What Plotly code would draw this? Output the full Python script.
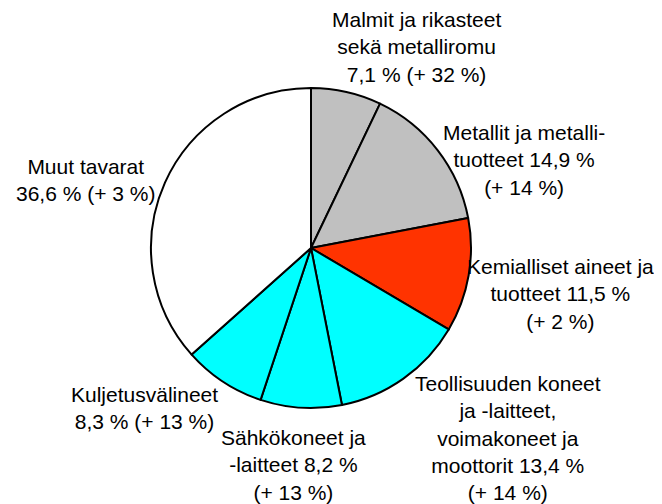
import plotly.graph_objects as go

# The page body has an 8px default margin, so the figure is drawn 8px in.
OFF = 8
W, H = 662 - OFF, 504 - OFF

categories = [
    "Malmit ja rikasteet sekä metalliromu",
    "Metallit ja metallituotteet",
    "Kemialliset aineet ja tuotteet",
    "Teollisuuden koneet ja -laitteet, voimakoneet ja moottorit",
    "Sähkökoneet ja -laitteet",
    "Kuljetusvälineet",
    "Muut tavarat",
]
shares = [7.1, 14.9, 11.5, 13.4, 8.2, 8.3, 36.6]
changes = [32, 14, 2, 14, 13, 13, 3]
label_texts = [
    "Malmit ja rikasteet<br>sekä metalliromu<br>7,1 % (+ 32 %)",
    "Metallit ja metalli-<br>tuotteet 14,9 %<br>(+ 14 %)",
    "Kemialliset aineet ja<br>tuotteet 11,5 %<br>(+ 2 %)",
    "Teollisuuden koneet<br>ja -laitteet,<br>voimakoneet ja<br>moottorit 13,4 %<br>(+ 14 %)",
    "Sähkökoneet ja<br>-laitteet 8,2 %<br>(+ 13 %)",
    "Kuljetusvälineet<br>8,3 % (+ 13 %)",
    "Muut tavarat<br>36,6 % (+ 3 %)",
]
colors = ["#C0C0C0", "#C0C0C0", "#FF3300", "#00FFFF", "#00FFFF", "#00FFFF", "#FFFFFF"]

# label centres in window pixels
label_pos = [(416, 47), (524, 160), (560, 294), (508, 438), (293, 465), (144, 408), (85, 180)]


def px_x(x):
    return (x - OFF) / W


def px_y(y):
    return 1 - (y - OFF) / H


fig = go.Figure(go.Pie(
    labels=categories,
    values=shares,
    sort=False,
    direction="clockwise",
    rotation=0,
    marker=dict(colors=colors, line=dict(color="#000000", width=2)),
    textinfo="none",
    hoverinfo="label+value",
    showlegend=False,
    domain=dict(x=[px_x(151), px_x(471)], y=[px_y(408), px_y(88)]),
))

for txt, (px, py) in zip(label_texts, label_pos):
    fig.add_annotation(
        x=px_x(px), y=px_y(py), xref="paper", yref="paper",
        text=txt, showarrow=False, xanchor="center", yanchor="middle",
        align="center",
        font=dict(family="Liberation Sans, Arial, sans-serif", size=21, color="#000000"),
    )

fig.update_layout(
    width=W, height=H,
    margin=dict(l=0, r=0, t=0, b=0),
    paper_bgcolor="#FFFFFF",
    plot_bgcolor="#FFFFFF",
)

fig.write_html("out.html")
